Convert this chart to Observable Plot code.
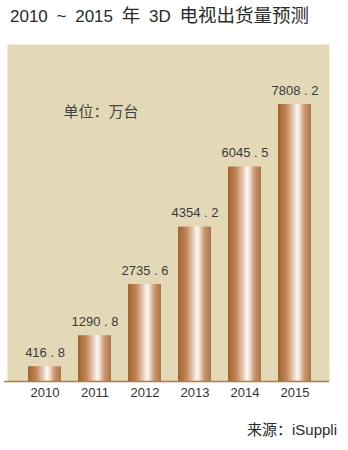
<!DOCTYPE html>
<html>
<head>
<meta charset="utf-8">
<script src="https://cdn.jsdelivr.net/npm/d3@7"></script>
<script src="https://cdn.jsdelivr.net/npm/@observablehq/plot@0.6"></script>
<style>
  body { margin: 0; background: #fff; width: 348px; height: 450px; overflow: hidden;
         font-family: "Liberation Sans", Arial, "Noto Sans CJK SC", sans-serif; }
  #title { height: 36px; line-height: 32px; padding-left: 10px; font-size: 17px; word-spacing: 4px; color: #2a2a2a; white-space: nowrap; }
  #title .cjk { font-size: 18.5px; }
  #chart svg { display: block; }
  #source { height: 28px; line-height: 28px; text-align: right; padding-right: 11px; font-size: 15px; color: #2a2a2a; }
</style>
</head>
<body>
<div id="title">2010 ~ 2015 <span class="cjk">年</span> 3D <span class="cjk">电视出货量预测</span></div>
<div id="chart"></div>
<div id="source">来源：iSuppli</div>
<script>
// 3D TV shipments forecast, in 10,000 units
const years = ["2010", "2011", "2012", "2013", "2014", "2015"];
const shipments = [416.8, 1290.8, 2735.6, 4354.2, 6045.5, 7808.2];
const unitLabel = "单位：万台";

const data = years.map((year, i) => ({year, value: shipments[i]}));
const fmt = (v) => d3.format(".1f")(v).replace(".", " . ");

const chart = Plot.plot({
  width: 348,
  height: 380,
  marginTop: 8,
  marginBottom: 35,
  marginLeft: 17,
  marginRight: 27,
  style: {fontFamily: '"Liberation Sans", Arial, "Noto Sans CJK SC", sans-serif', color: "#333", background: "transparent"},
  x: {domain: years, paddingInner: 0.35, paddingOuter: 0.175, label: null},
  y: {domain: [0, 9500], axis: null},
  marks: [
    Plot.frame({fill: "#e3d9b6", stroke: "none", insetLeft: -10, insetRight: -8}),
    Plot.barY(data, {x: "year", y: "value", fill: "url(#barGradient)"}),
    Plot.ruleY([0], {stroke: "#b8783f", strokeWidth: 1.6, insetLeft: -13, insetRight: -8}),
    Plot.text(data, {x: "year", y: "value", text: (d) => fmt(d.value), dy: -14, fontSize: 13, fill: "#3a3a3a"}),
    Plot.text([unitLabel], {frameAnchor: "top-left", dx: 46, dy: 62, textAnchor: "start", fontSize: 15, fill: "#444"}),
    Plot.axisX({tickSize: 0, tickPadding: 6, fontSize: 13, label: null, fill: "#333"})
  ]
});

// horizontal metallic gradient for the bars
const ns = "http://www.w3.org/2000/svg";
const defs = document.createElementNS(ns, "defs");
const grad = document.createElementNS(ns, "linearGradient");
grad.setAttribute("id", "barGradient");
grad.setAttribute("x1", "0"); grad.setAttribute("x2", "1");
grad.setAttribute("y1", "0"); grad.setAttribute("y2", "0");
[["0%", "#a4622e"], ["25%", "#bf8558"], ["45%", "#e6c9b4"], ["58%", "#fdf8f4"], ["64%", "#f4e4d6"], ["80%", "#c99772"], ["100%", "#ad7446"]]
  .forEach(([offset, color]) => {
    const s = document.createElementNS(ns, "stop");
    s.setAttribute("offset", offset);
    s.setAttribute("stop-color", color);
    grad.appendChild(s);
  });
defs.appendChild(grad);
chart.insertBefore(defs, chart.firstChild);

document.getElementById("chart").appendChild(chart);
</script>
</body>
</html>
